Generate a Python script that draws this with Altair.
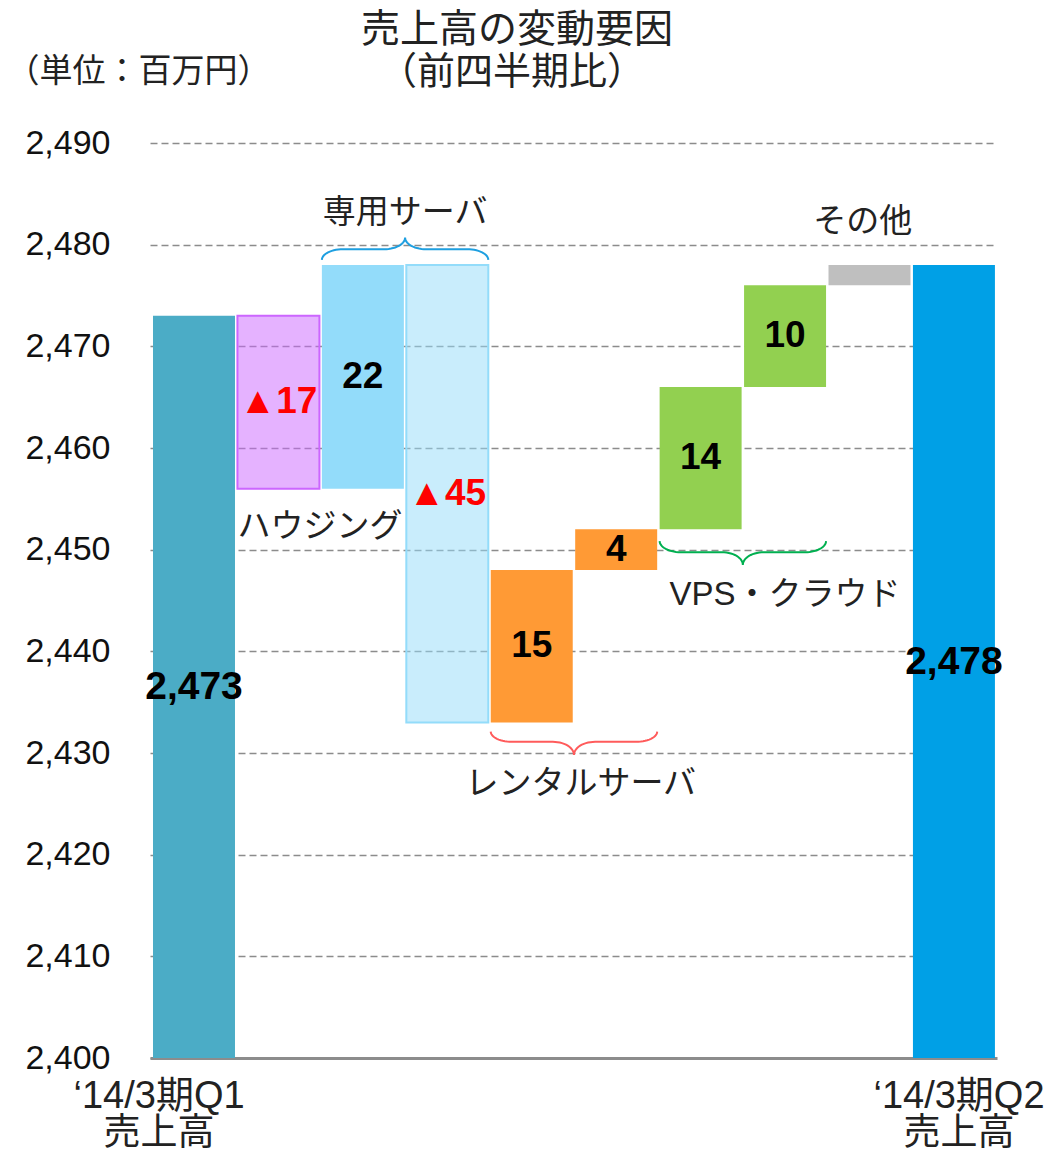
import math
import altair as alt
import pandas as pd

# ---------------- data ----------------
categories = ["Q1売上高", "ハウジング", "専用サーバ増", "専用サーバ減", "レンタル1", "レンタル2",
              "VPS1", "VPS2", "その他", "Q2売上高"]
q1_total = 2473
q2_total = 2478
changes = [None, -17, 22, -45, 15, 4, 14, 10, 2, None]
show_value = [True, True, True, True, True, True, True, True, False, True]
fills = ["#4BACC6", "#CC66FF", "#93DCFA", "#93DCFA", "#FF9A35", "#FF9A35",
         "#92D050", "#92D050", "#BFBFBF", "#00A0E6"]
fill_opacity = [1, 0.5, 1, 0.5, 1, 1, 1, 1, 1, 1]
stroke_width = [0, 2, 0, 2, 0, 0, 0, 0, 0, 0]

y_ticks = list(range(2400, 2491, 10))
x_label_lines = [["‘14/3期Q1", "売上高"], ["‘14/3期Q2", "売上高"]]
x_label_pos = [-0.414, 9.06]

title_lines = ["売上高の変動要因", "（前四半期比）"]
unit_text = "（単位：百万円）"

group_texts = ["ハウジング", "専用サーバ", "レンタルサーバ", "VPS・クラウド", "その他"]
group_x = [0.515, 2.5, 4.58, 7.0, 7.92]
group_y = [2452.2, 2483.1, 2427.0, 2445.5, 2482.2]
group_align = ["left", "center", "center", "center", "center"]

# braces: (first bar, last bar, side, colour, end gap, flat gap, tip gap)
braces = [(2, 3, "up", "#1E9FE0", 0.5, 1.55, 2.7),
          (4, 5, "down", "#FF5B5B", 0.9, 1.9, 3.2),
          (6, 7, "down", "#00B050", 1.15, 2.25, 3.5)]

HALF = 0.4855
JP = "Noto Sans CJK JP"
LAT = "Liberation Sans, DejaVu Sans, Noto Sans CJK JP"
MIX = "Liberation Sans, Noto Sans CJK JP"

# ---------------- build tables ----------------
rows = []
level = q1_total
for i, c in enumerate(categories):
    ch = changes[i]
    if ch is None:
        total = q1_total if i == 0 else q2_total
        s, e = 2400, total
        txt = f"{total:,}"
        col = "#000000"
        fs = 39
    else:
        s, e = level, level + ch
        level = e
        txt = (f"▲{abs(ch)}" if ch < 0 else f"{ch}") if show_value[i] else ""
        col = "#FF0000" if ch < 0 else "#000000"
        fs = 37
    rows.append(dict(cat=c, x0=i - HALF, x1=i + HALF, xc=i, y0=s, y1=e,
                     ym=(s + e) / 2, fill=fills[i], fo=fill_opacity[i],
                     sw=stroke_width[i], txt=txt, tcol=col, fs=fs))
bars = pd.DataFrame(rows)

brace_pts = []
for b, (i0, i1, side, colr, g_end, g_flat, g_tip) in enumerate(braces):
    seg = bars.iloc[i0:i1 + 1]
    x0 = i0 - HALF
    x1 = i1 + HALF
    xm = (x0 + x1) / 2
    if side == "up":
        ref = max(seg.y0.max(), seg.y1.max())
        y_end, y_flat, y_tip = ref + g_end, ref + g_flat, ref + g_tip
    else:
        ref = min(seg.y0.min(), seg.y1.min())
        y_end, y_flat, y_tip = ref - g_end, ref - g_flat, ref - g_tip
    rx = 0.25
    n = 14
    pts = []
    for k in range(n + 1):
        t = k / n * math.pi / 2
        pts.append((x0 + rx - rx * math.cos(t), y_end + (y_flat - y_end) * math.sin(t)))
    for k in range(n + 1):
        t = k / n * math.pi / 2
        pts.append((xm - rx + rx * math.sin(t), y_flat + (y_tip - y_flat) * (1 - math.cos(t))))
    for k in range(n, -1, -1):
        t = k / n * math.pi / 2
        pts.append((xm + rx - rx * math.sin(t), y_flat + (y_tip - y_flat) * (1 - math.cos(t))))
    for k in range(n, -1, -1):
        t = k / n * math.pi / 2
        pts.append((x1 - rx + rx * math.cos(t), y_end + (y_flat - y_end) * math.sin(t)))
    for j, (px, py) in enumerate(pts):
        brace_pts.append(dict(b=b, o=j, x=px, y=py, col=colr))
brace_df = pd.DataFrame(brace_pts)

groups = pd.DataFrame(dict(txt=group_texts, x=group_x, y=group_y, al=group_align))

xl_rows = []
for lines, xp in zip(x_label_lines, x_label_pos):
    for li, t in enumerate(lines):
        xl_rows.append(dict(txt=t, x=xp, line=li))
xlabels = pd.DataFrame(xl_rows)

# ---------------- chart ----------------
xscale = alt.Scale(domain=[-0.521, 9.51], nice=False, zero=False)
yscale = alt.Scale(domain=[2400, 2490], nice=False, zero=False)

bar_layer = alt.Chart(bars).mark_rect().encode(
    x=alt.X("x0:Q", scale=xscale,
            axis=alt.Axis(labels=False, ticks=False, grid=False, title=None,
                          domainColor="#8c8c8c", domainWidth=3)),
    x2="x1:Q",
    y=alt.Y("y0:Q", scale=yscale,
            axis=alt.Axis(values=y_ticks, format=",d", grid=True, gridDash=[7, 4],
                          gridColor="#8c8c8c", gridWidth=1.3, ticks=False, domain=False,
                          labelFontSize=34, labelFont="Liberation Sans", labelColor="#111111",
                          labelPadding=40,
                          title=unit_text, titleAngle=0, titleX=-144, titleY=-72,
                          titleAlign="left", titleBaseline="middle", titleFontSize=33,
                          titleFont=JP, titleFontWeight="normal", titleColor="#222222")),
    y2="y1:Q",
    fill=alt.Fill("fill:N", scale=None),
    stroke=alt.Stroke("fill:N", scale=None),
    fillOpacity=alt.FillOpacity("fo:Q", scale=None),
    strokeWidth=alt.StrokeWidth("sw:Q", scale=None),
)

value_layer = alt.Chart(bars).mark_text(font=LAT, fontWeight="bold", baseline="middle",
                                        align="center").encode(
    x="xc:Q", y="ym:Q", text="txt:N",
    color=alt.Color("tcol:N", scale=None),
    size=alt.Size("fs:Q", scale=None),
)

brace_layer = alt.Chart(brace_df).mark_line(strokeWidth=2, interpolate="linear").encode(
    x="x:Q", y="y:Q", detail="b:N", order="o:Q",
    color=alt.Color("col:N", scale=None),
)

group_layer_c = alt.Chart(groups[groups.al == "center"]).mark_text(
    font=MIX, fontSize=33, color="#222222", baseline="middle", align="center").encode(
    x="x:Q", y="y:Q", text="txt:N")
group_layer_l = alt.Chart(groups[groups.al == "left"]).mark_text(
    font=MIX, fontSize=33, color="#222222", baseline="middle", align="left").encode(
    x="x:Q", y="y:Q", text="txt:N")

xl1 = alt.Chart(xlabels[xlabels.line == 0]).mark_text(
    font=MIX, fontSize=38, color="#222222", baseline="middle", align="center").encode(
    x="x:Q", y=alt.value(954), text="txt:N")
xl2 = alt.Chart(xlabels[xlabels.line == 1]).mark_text(
    font=MIX, fontSize=37, color="#222222", baseline="middle", align="center").encode(
    x="x:Q", y=alt.value(991), text="txt:N")

title_df = pd.DataFrame(dict(txt=title_lines, line=[0, 1]))
t1 = alt.Chart(title_df[title_df.line == 0]).mark_text(
    font=JP, fontSize=39, color="#222222", baseline="middle", align="center").encode(
    x=alt.value(367), y=alt.value(-113), text="txt:N")
t2 = alt.Chart(title_df[title_df.line == 1]).mark_text(
    font=JP, fontSize=38, color="#222222", baseline="middle", align="center").encode(
    x=alt.value(362), y=alt.value(-70), text="txt:N")

chart = alt.layer(bar_layer, value_layer, brace_layer, group_layer_c, group_layer_l,
                  xl1, xl2, t1, t2).properties(
    width=847, height=915,
    autosize=alt.AutoSizeParams(type="none"),
    padding={"left": 142, "top": 135, "right": 50, "bottom": 96},
    background="white",
).configure_view(stroke=None)

chart.save("out.html", embed_options={"renderer": "svg", "actions": False})
